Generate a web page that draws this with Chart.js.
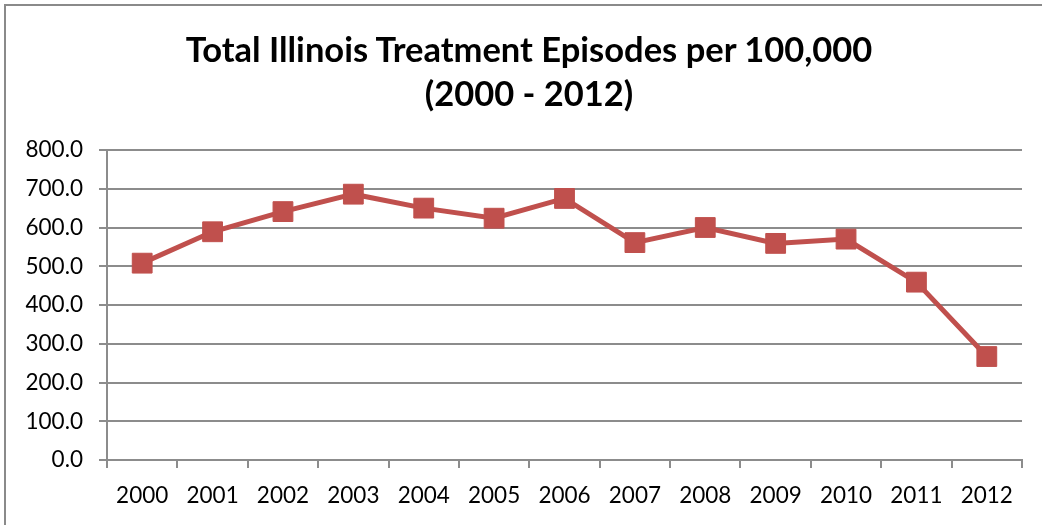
<!DOCTYPE html>
<html>
<head>
<meta charset="utf-8">
<script src="https://cdn.jsdelivr.net/npm/chart.js@4.4.1/dist/chart.umd.min.js"></script>
<style>
  html, body { margin: 0; padding: 0; background: #fff; overflow: hidden; }
  #frame {
    position: absolute; left: 4px; top: 4px; width: 1100px; height: 600px;
    border-left: 2px solid #8a8a8a; border-top: 2px solid #8a8a8a;
  }
  #wrap { position: absolute; left: 0; top: 0; width: 1042px; height: 525px; }
  #title {
    position: absolute; left: 229px; top: 27px; width: 600px;
    text-align: center; font: bold 34.5px/44px Lato, Calibri, sans-serif;
    color: #000; white-space: nowrap;
  }
  #title div { margin-left: -100px; margin-right: -100px; }
</style>
</head>
<body>
<div id="frame"></div>
<div id="wrap"><canvas id="chart"></canvas></div>
<div id="title"></div>
<script>
// Data
const years = ["2000", "2001", "2002", "2003", "2004", "2005", "2006",
  "2007", "2008", "2009", "2010", "2011", "2012"];
const episodes = [508, 589, 641, 686, 650, 624, 675, 561, 600, 559, 570, 459, 267];
const titleLines = ["Total Illinois Treatment Episodes per 100,000", "(2000 - 2012)"];

const red = "#c0504d";
const gridGray = "#8c8c8c";
const font = "Lato, Calibri, 'Open Sans', sans-serif";

// Title as plain text above the canvas
const titleBox = document.getElementById("title");
titleLines.forEach((line) => {
  const div = document.createElement("div");
  div.textContent = line;
  titleBox.appendChild(div);
});

new Chart(document.getElementById("chart"), {
  type: "line",
  data: {
    labels: years,
    datasets: [
      {
        data: episodes,
        borderColor: red,
        backgroundColor: red,
        borderWidth: 5,
        pointStyle: "rect",
        pointRadius: 14,
        pointBorderWidth: 1,
        pointBorderColor: red,
        tension: 0,
      },
    ],
  },
  options: {
    responsive: true,
    maintainAspectRatio: false,
    animation: false,
    layout: { padding: { left: 5, right: 20, top: 150, bottom: 0 } },
    plugins: {
      legend: { display: false },
      tooltip: { enabled: false },
    },
    scales: {
      x: {
        offset: true,
        grid: {
          display: true,
          drawOnChartArea: false,
          offset: true,
          tickLength: 8,
          color: gridGray,
          lineWidth: 2,
        },
        border: { color: gridGray, width: 2 },
        ticks: {
          color: "#000",
          padding: 14,
          maxRotation: 0,
          font: { family: font, size: 22.5 },
        },
        afterFit: (scale) => {
          scale.height = 65;
        },
      },
      y: {
        min: 0,
        max: 800,
        grid: { color: gridGray, lineWidth: 2, tickLength: 8 },
        border: { color: gridGray, width: 2 },
        ticks: {
          stepSize: 100,
          color: "#000",
          padding: 16,
          font: { family: font, size: 22.5 },
          callback: (v) => v.toFixed(1),
        },
        afterFit: (scale) => {
          scale.width = 102;
        },
      },
    },
  },
});
</script>
</body>
</html>
